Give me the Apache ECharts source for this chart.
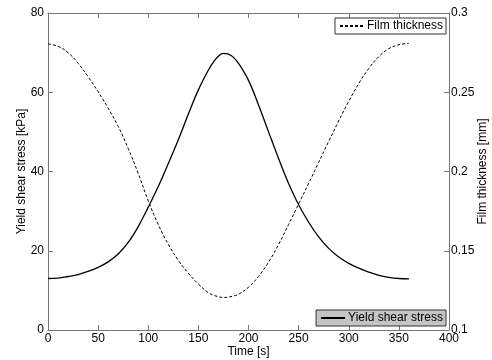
<!DOCTYPE html>
<html>
<head>
<meta charset="utf-8">
<script src="https://cdn.jsdelivr.net/npm/echarts@6/dist/echarts.min.js"></script>
<style>
  html, body { margin: 0; padding: 0; background: #fff; }
  #chart { width: 492px; height: 360px; }
</style>
</head>
<body>
<div id="chart"></div>
<script>
const timeS = [0, 10, 20, 30, 40, 50, 60, 70, 80, 90, 100, 110, 120, 130, 140, 150, 160, 165, 170,
  175, 180, 185, 190, 200, 210, 220, 230, 240, 250, 260, 270, 280, 290, 300, 310, 320, 330, 340,
  350, 360];

const yieldStress = [13.0, 13.1, 13.5, 14.0, 14.8, 15.8, 17.2, 19.2, 22.1, 26.1, 31.0, 36.2, 42.0,
  48.0, 54.5, 60.6, 65.6, 67.6, 69.1, 69.8, 69.6, 68.8, 67.3, 63.0, 56.8, 50.0, 43.3, 37.0, 31.6,
  27.2, 23.5, 20.6, 18.4, 16.8, 15.6, 14.6, 13.8, 13.3, 13.0, 12.9];

const filmThickness = [0.2805, 0.2790, 0.2750, 0.2683, 0.2598, 0.2503, 0.2400, 0.2285, 0.2145,
  0.1988, 0.1815, 0.1665, 0.1540, 0.1440, 0.1358, 0.1290, 0.1235, 0.1220, 0.1210, 0.1205, 0.1208,
  0.1215, 0.1225, 0.1270, 0.1338, 0.1428, 0.1540, 0.1665, 0.1795, 0.1925, 0.2058, 0.2190, 0.2320,
  0.2443, 0.2555, 0.2650, 0.2725, 0.2775, 0.2800, 0.2808];

const leftTicks = [0, 20, 40, 60, 80];
const rightTicks = [0.1, 0.15, 0.2, 0.25, 0.3];

const font = "Liberation Sans, Arial, sans-serif";
const axisColor = "#777";

const tickStyle = { inside: true, length: 5, lineStyle: { color: axisColor } };
const lineStyleAxis = { onZero: false, lineStyle: { color: axisColor, width: 1 } };
const labelStyle = { color: "#000", fontFamily: font, fontSize: 12 };
const nameStyle = { color: "#000", fontSize: 12, fontFamily: font };

const legendBase = {
  right: 46,
  orient: "vertical",
  itemWidth: 24,
  itemHeight: 10,
  itemGap: 0,
  padding: [2, 3, 2, 4],
  borderColor: "#333",
  borderWidth: 1,
  itemStyle: { opacity: 0 },
  textStyle: { color: "#000", fontSize: 12, fontFamily: font, padding: [0, 0, 0, -2] },
};

const chart = echarts.init(document.getElementById("chart"), null, { renderer: "canvas" });

chart.setOption({
  animation: false,
  backgroundColor: "#fff",
  textStyle: { fontFamily: font },
  grid: { left: 48, right: 43, top: 13, bottom: 30, containLabel: false, outerBoundsMode: "none" },
  legend: [
    { ...legendBase, data: ["Film thickness"], top: 18, backgroundColor: "#fff" },
    { ...legendBase, data: ["Yield shear stress"], bottom: 34, backgroundColor: "#c4c4c4" },
  ],
  xAxis: [
    {
      type: "value",
      min: 0,
      max: 400,
      interval: 50,
      name: "Time [s]",
      nameLocation: "middle",
      nameGap: 16,
      nameMoveOverlap: false,
      nameTextStyle: nameStyle,
      axisLine: lineStyleAxis,
      axisTick: tickStyle,
      axisLabel: { ...labelStyle, margin: 3 },
      splitLine: { show: false },
    },
    {
      type: "value",
      position: "top",
      min: 0,
      max: 400,
      interval: 50,
      axisLine: lineStyleAxis,
      axisTick: tickStyle,
      axisLabel: { show: false },
      splitLine: { show: false },
    },
  ],
  yAxis: [
    {
      type: "value",
      min: leftTicks[0],
      max: leftTicks[leftTicks.length - 1],
      interval: 20,
      name: "Yield shear stress [kPa]",
      nameLocation: "middle",
      nameGap: 20,
      nameMoveOverlap: false,
      nameTextStyle: nameStyle,
      axisLine: lineStyleAxis,
      axisTick: tickStyle,
      axisLabel: { ...labelStyle, margin: 4 },
      splitLine: { show: false },
    },
    {
      type: "value",
      position: "right",
      min: rightTicks[0],
      max: rightTicks[rightTicks.length - 1],
      interval: 0.05,
      name: "Film thickness [mm]",
      nameLocation: "middle",
      nameGap: 28,
      nameMoveOverlap: false,
      nameTextStyle: nameStyle,
      axisLine: lineStyleAxis,
      axisTick: tickStyle,
      axisLabel: { ...labelStyle, margin: 2, formatter: (v) => String(+v.toFixed(2)) },
      splitLine: { show: false },
    },
  ],
  series: [
    {
      name: "Film thickness",
      type: "line",
      yAxisIndex: 1,
      data: timeS.map((t, i) => [t, filmThickness[i]]),
      smooth: 0.4,
      showSymbol: false,
      symbol: "none",
      lineStyle: { color: "#000", width: 1, type: [3, 2] },
      itemStyle: { color: "#000" },
    },
    {
      name: "Yield shear stress",
      type: "line",
      yAxisIndex: 0,
      data: timeS.map((t, i) => [t, yieldStress[i]]),
      smooth: 0.4,
      showSymbol: false,
      symbol: "none",
      lineStyle: { color: "#000", width: 1.3 },
      itemStyle: { color: "#000" },
    },
  ],
});
</script>
</body>
</html>
